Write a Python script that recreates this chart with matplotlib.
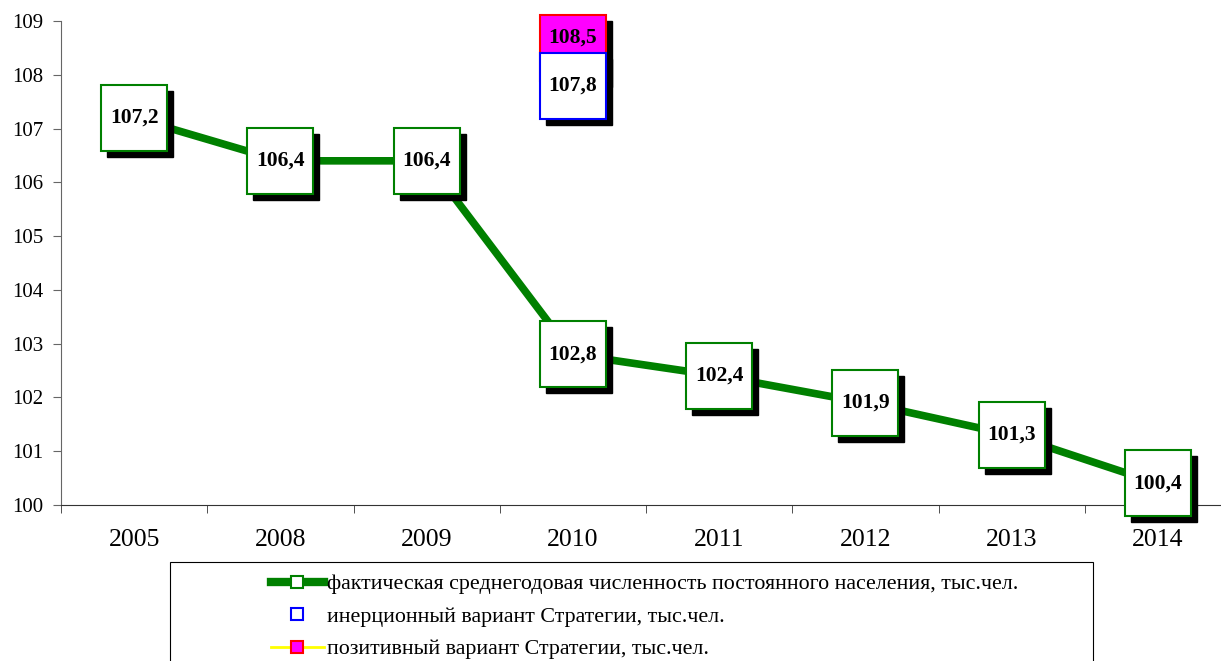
import matplotlib.pyplot as plt
import matplotlib.transforms as mtransforms
from matplotlib.lines import Line2D
from matplotlib.patches import Rectangle
import numpy as np

plt.rcParams['font.family'] = ['Liberation Serif', 'DejaVu Serif']

years = ['2005', '2008', '2009', '2010', '2011', '2012', '2013', '2014']
fact = [107.2, 106.4, 106.4, 102.8, 102.4, 101.9, 101.3, 100.4]
inert_year = '2010'
inert_val = 107.8
posit_year = '2010'
posit_val = 108.5

fact_label = 'фактическая среднегодовая численность постоянного населения, тыс.чел.'
inert_label = 'инерционный вариант Стратегии, тыс.чел.'
posit_label = 'позитивный вариант Стратегии, тыс.чел.'

green = '#008000'

def fmt(v):
    return ('%.1f' % v).replace('.', ',')

W, H = 1221, 661
fig = plt.figure(figsize=(W / 100, H / 100), dpi=100)
ax = fig.add_axes([61 / W, (H - 505) / H, 1170 / W, 484 / H])

x = np.arange(len(years))
xi = years.index(inert_year)
xp = years.index(posit_year)

shadow = ax.transData + mtransforms.ScaledTranslation(6 / 100, -6 / 100, fig.dpi_scale_trans)
box_ms = 48  # points, ~68 px

ax.plot(x, fact, color=green, lw=5.5, zorder=2, solid_capstyle='butt', clip_on=False)

# shadows
ax.plot(x, fact, ls='none', marker='s', ms=box_ms, mfc='black', mec='black', zorder=3,
        transform=shadow, clip_on=False)
ax.plot([xp, xi], [posit_val, inert_val], ls='none', marker='s', ms=box_ms,
        mfc='black', mec='black', zorder=3, transform=shadow, clip_on=False)

# boxes
ax.plot(x, fact, ls='none', marker='s', ms=box_ms, mfc='white', mec=green, mew=1.5,
        zorder=4, clip_on=False)
ax.plot([xp], [posit_val], ls='none', marker='s', ms=box_ms, mfc='#ff00ff', mec='red',
        mew=1.5, zorder=4, clip_on=False)
ax.plot([xi], [inert_val], ls='none', marker='s', ms=box_ms, mfc='white', mec='blue',
        mew=1.5, zorder=5, clip_on=False)

for xx, v in zip(x, fact):
    ax.text(xx, v, fmt(v), ha='center', va='center', fontsize=15.5, fontweight='bold', zorder=6)
ax.text(xi, inert_val, fmt(inert_val), ha='center', va='center', fontsize=15.5,
        fontweight='bold', zorder=6)
ax.annotate(fmt(posit_val), (xp, posit_val), xytext=(0, 10), textcoords='offset pixels',
            ha='center', va='center', fontsize=15.5, fontweight='bold', zorder=6)

ax.set_xlim(-0.5, len(years) - 0.5)
ax.set_ylim(100, 109)
ax.set_yticks(np.arange(100, 110, 1))
ax.set_xticks(x)
ax.set_xticklabels(years)
ax.set_xticks(np.arange(-0.5, len(years), 1), minor=True)
ax.tick_params(axis='x', which='major', length=0, labelsize=18.5, pad=17)
ax.tick_params(axis='x', which='minor', length=6, color='#333333', direction='out')
ax.tick_params(axis='y', length=6, color='#666666', labelsize=15, pad=7)
for s in ['top', 'right']:
    ax.spines[s].set_visible(False)
ax.spines['left'].set_color('#666666')
ax.spines['bottom'].set_color('#333333')

# legend frame
fig.patches.append(Rectangle((170 / W, (H - 680) / H), 923 / W, 118 / H, transform=fig.transFigure,
                             fill=False, ec='black', lw=0.8))

handles = [
    Line2D([], [], color=green, lw=6, marker='s', ms=9, mfc='white', mec=green, mew=1.5),
    Line2D([], [], ls='none', marker='s', ms=9, mfc='white', mec='blue', mew=1.5),
    Line2D([], [], color='yellow', lw=2, marker='s', ms=9, mfc='#ff00ff', mec='red', mew=1.5),
]
fig.legend(handles, [fact_label, inert_label, posit_label], loc='upper left',
           bbox_to_anchor=(260 / W, (H - 563) / H), frameon=False, fontsize=15.8,
           handlelength=2.4, handletextpad=0.15, labelspacing=0.55, borderpad=0)

fig.savefig('out.png', dpi=100)
